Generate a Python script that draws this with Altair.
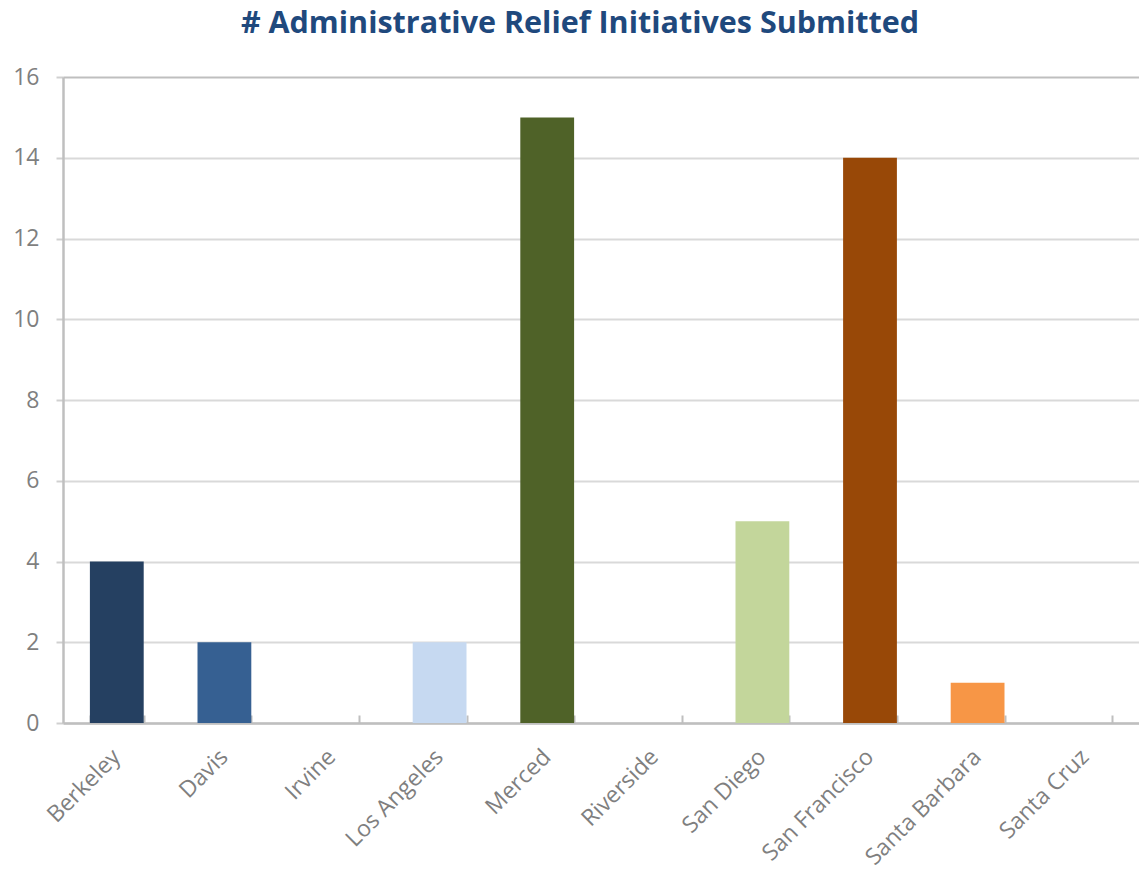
import altair as alt
import pandas as pd

campuses = ["Berkeley", "Davis", "Irvine", "Los Angeles", "Merced", "Riverside",
            "San Diego", "San Francisco", "Santa Barbara", "Santa Cruz"]
initiatives = [4, 2, 0, 2, 15, 0, 5, 14, 1, 0]
bar_colors = ["#254061", "#366092", "#4F81BD", "#C6D9F1", "#4F6228", "#77933C",
              "#C3D69B", "#984807", "#F79646", "#FAC090"]
y_ticks = [0, 2, 4, 6, 8, 10, 12, 14, 16]

df = pd.DataFrame({"campus": campuses, "count": initiatives})

FONT = "Open Sans"
LABEL = "#7F7F7F"

xscale = alt.Scale(domain=campuses, paddingInner=0.5, paddingOuter=0.25)
yscale = alt.Scale(domain=[0, 16], nice=False)

y_axis = alt.Axis(title=None, values=y_ticks, labelFontSize=23, labelColor=LABEL,
                  labelFont=FONT, labelPadding=17, tickSize=7, tickColor="#D0D0D0",
                  tickWidth=2, domainColor="#BFBFBF", domainWidth=2.5,
                  gridColor={"condition": {"test": "datum.value == 16", "value": "#BFBFBF"},
                             "value": "#D9D9D9"},
                  gridWidth=2)

bars = alt.Chart(df).mark_bar().encode(
    x=alt.X("campus:N", sort=campuses, scale=xscale,
            axis=alt.Axis(title=None, orient="bottom", labelAngle=-45, labelAlign="right",
                          labelBaseline="middle", labelPadding=30, labelFontSize=23,
                          labelColor=LABEL, labelFont=FONT, ticks=False,
                          domainColor="#BFBFBF", domainWidth=2.5, grid=False)),
    y=alt.Y("count:Q", scale=yscale, axis=y_axis),
    color=alt.Color("campus:N", scale=alt.Scale(domain=campuses, range=bar_colors), legend=None),
)

ticks = alt.Chart(df).mark_bar(opacity=0).encode(
    x=alt.X("campus:N", sort=campuses, scale=xscale,
            axis=alt.Axis(title=None, orient="bottom", offset=-8, labels=False, domain=False,
                          ticks=True, tickBand="extent", tickSize=8, tickColor="#BFBFBF",
                          tickWidth=2, grid=False)),
    y=alt.Y("count:Q", scale=yscale, axis=y_axis),
)

chart = alt.layer(bars, ticks).resolve_axis(x="independent").properties(
    width=1076,
    height=646,
    autosize=alt.AutoSizeParams(type="none"),
    padding={"left": 63, "top": 77, "right": 0, "bottom": 150},
    title=alt.TitleParams("# Administrative Relief Initiatives Submitted", font=FONT,
                          fontSize=30.5, fontWeight="bold", color="#1F497D",
                          anchor="middle", dx=-21, offset=27),
).configure_view(stroke=None).configure(background="white")

chart.save("out.html", embed_options={"renderer": "svg", "actions": False})
